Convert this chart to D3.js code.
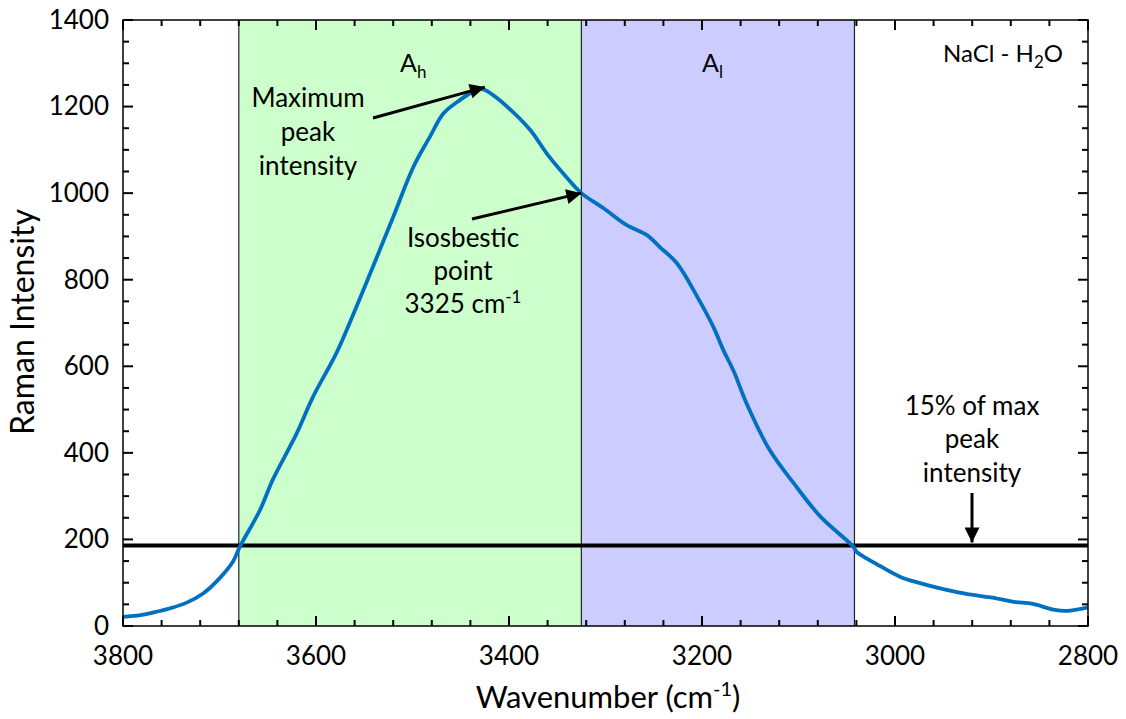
<!DOCTYPE html>
<html>
<head>
<meta charset="utf-8">
<script src="https://cdn.jsdelivr.net/npm/d3@7"></script>
<style>
  html, body { margin: 0; padding: 0; background: #fff; }
  svg text { font-family: Lato, "Open Sans", sans-serif; fill: #000; }
</style>
</head>
<body>
<svg id="chart" width="1126" height="719"></svg>
<script>
// ---- data ----
const wavenumber = [3800, 3782, 3769, 3751, 3734, 3717, 3700, 3686, 3679, 3658, 3645, 3620, 3603, 3579, 3561, 3541, 3520, 3499, 3482, 3468, 3451, 3434, 3427, 3423, 3402, 3378, 3361, 3344, 3325, 3302, 3278, 3257, 3244, 3226, 3205, 3188, 3178, 3167, 3154, 3130, 3105, 3077, 3043, 3040, 3019, 2995, 2974, 2950, 2926, 2901, 2877, 2857, 2836, 2822, 2800];
const intensity  = [21, 25, 31, 41, 54, 75, 110, 149, 183, 268, 337, 445, 530, 630, 722, 830, 945, 1061, 1130, 1184, 1215, 1238, 1240, 1236, 1200, 1146, 1092, 1046, 1000, 965, 926, 903, 876, 838, 761, 690, 638, 588, 515, 407, 330, 252, 183, 172, 143, 114, 99, 85, 74, 66, 56, 51, 38, 35, 43];
const xTicks = [3800, 3600, 3400, 3200, 3000, 2800];
const yTicks = [0, 200, 400, 600, 800, 1000, 1200, 1400];
const regionBounds = [3680, 3325, 3042];   // A_h from 3680 to 3325, A_l from 3325 to 3042
const regionLabels = ["h", "l"];
const regionLabelAt = [3513, 3200];
const regionColors = ["#ccffcc", "#ccccff"];
const threshold = 186;                     // 15% of max peak intensity
const lineColor = "#0070c0";

// ---- layout ----
const svg = d3.select("#chart");
const m = { left: 123, right: 1088, top: 20, bottom: 626 };
const x = d3.scaleLinear().domain([3800, 2800]).range([m.left, m.right]);
const y = d3.scaleLinear().domain([0, 1400]).range([m.bottom, m.top]);

// regions
for (let i = 0; i < 2; i++) {
  svg.append("rect")
    .attr("x", x(regionBounds[i])).attr("y", m.top)
    .attr("width", x(regionBounds[i + 1]) - x(regionBounds[i]))
    .attr("height", m.bottom - m.top)
    .attr("fill", regionColors[i]);
}
regionBounds.forEach(b => {
  svg.append("line").attr("x1", x(b)).attr("x2", x(b))
    .attr("y1", m.top).attr("y2", m.bottom)
    .attr("stroke", "#222").attr("stroke-width", 1.2);
});

// region labels
regionLabels.forEach((s, i) => {
  const t = svg.append("text").attr("x", x(regionLabelAt[i])).attr("y", 72)
    .attr("text-anchor", "start").style("font-size", "25px");
  t.append("tspan").text("A");
  t.append("tspan").attr("dy", 6).style("font-size", "17px").text(s);
});

// axes (ticks inside, mirrored)
const xMinor = d3.range(3800, 2799, -40);
const yMinor = d3.range(0, 1401, 50);
const axG = svg.append("g").attr("stroke", "#000");
xMinor.forEach(v => {
  const major = v % 200 === 0;
  const L = major ? 10 : 6;
  axG.append("line").attr("x1", x(v)).attr("x2", x(v)).attr("y1", m.bottom).attr("y2", m.bottom - L).attr("stroke-width", 2);
  axG.append("line").attr("x1", x(v)).attr("x2", x(v)).attr("y1", m.top).attr("y2", m.top + L).attr("stroke-width", 2);
});
yMinor.forEach(v => {
  const major = v % 200 === 0;
  const L = major ? 10 : 6;
  axG.append("line").attr("x1", m.left).attr("x2", m.left + L).attr("y1", y(v)).attr("y2", y(v)).attr("stroke-width", 2);
  axG.append("line").attr("x1", m.right).attr("x2", m.right - L).attr("y1", y(v)).attr("y2", y(v)).attr("stroke-width", 2);
});

// threshold line
svg.append("line").attr("x1", m.left).attr("x2", m.right)
  .attr("y1", y(threshold)).attr("y2", y(threshold))
  .attr("stroke", "#000").attr("stroke-width", 4);

// curve
const pts = wavenumber.map((w, i) => [w, intensity[i]]);
svg.append("path").datum(pts)
  .attr("fill", "none").attr("stroke", lineColor).attr("stroke-width", 3.8)
  .attr("stroke-linejoin", "round")
  .attr("d", d3.line().x(d => x(d[0])).y(d => y(d[1])).curve(d3.curveCatmullRom.alpha(0.5)));

// frame
svg.append("rect").attr("x", m.left).attr("y", m.top)
  .attr("width", m.right - m.left).attr("height", m.bottom - m.top)
  .attr("fill", "none").attr("stroke", "#000").attr("stroke-width", 1.5);

// tick labels
svg.append("g").selectAll("text").data(xTicks).join("text")
  .attr("x", d => x(d)).attr("y", 665).attr("text-anchor", "middle")
  .style("font-size", "26px").text(d => d);
svg.append("g").selectAll("text").data(yTicks).join("text")
  .attr("x", 109).attr("y", d => y(d)).attr("dy", "0.34em").attr("text-anchor", "end")
  .style("font-size", "26px").text(d => d);

// axis titles
svg.append("text").attr("transform", "translate(34,322) rotate(-90)")
  .attr("text-anchor", "middle").style("font-size", "32px").text("Raman Intensity");
const xt = svg.append("text").attr("x", 608).attr("y", 708).attr("text-anchor", "middle").style("font-size", "31px");
xt.append("tspan").text("Wavenumber (cm");
xt.append("tspan").attr("dy", -12).style("font-size", "20px").text("-1");
xt.append("tspan").attr("dy", 12).text(")");

// NaCl - H2O
const nt = svg.append("text").attr("x", 1063).attr("y", 62).attr("text-anchor", "end").style("font-size", "24px");
nt.append("tspan").text("NaCl - H");
nt.append("tspan").attr("dy", 6).style("font-size", "17px").text("2");
nt.append("tspan").attr("dy", -6).text("O");

// arrow marker
const defs = svg.append("defs");
defs.append("marker").attr("id", "arr").attr("viewBox", "0 0 10 10")
  .attr("refX", 10).attr("refY", 5).attr("markerWidth", 6).attr("markerHeight", 5)
  .attr("markerUnits", "strokeWidth").attr("orient", "auto")
  .append("path").attr("d", "M0,0 L10,5 L0,10 Z").attr("fill", "#000");

function arrow(x1, y1, x2, y2) {
  svg.append("line").attr("x1", x1).attr("y1", y1).attr("x2", x2).attr("y2", y2)
    .attr("stroke", "#000").attr("stroke-width", 3).attr("marker-end", "url(#arr)");
}
function multiline(cx, baselines, lines) {
  lines.forEach((l, i) => {
    svg.append("text").attr("x", cx).attr("y", baselines[i]).attr("text-anchor", "middle")
      .style("font-size", "26px").text(l);
  });
}

// annotations
multiline(308, [107, 141, 175], ["Maximum", "peak", "intensity"]);
arrow(373, 118, x(3425), y(1238) - 3);

multiline(463, [247, 280], ["Isosbestic", "point"]);
const it = svg.append("text").attr("x", 463).attr("y", 313).attr("text-anchor", "middle").style("font-size", "26px");
it.append("tspan").text("3325 cm");
it.append("tspan").attr("dy", -10).style("font-size", "17px").text("-1");
arrow(472, 219, x(3325), y(1000));

multiline(972, [415, 448, 482], ["15% of max", "peak", "intensity"]);
arrow(972, 493, 972, y(threshold) - 3);
</script>
</body>
</html>
